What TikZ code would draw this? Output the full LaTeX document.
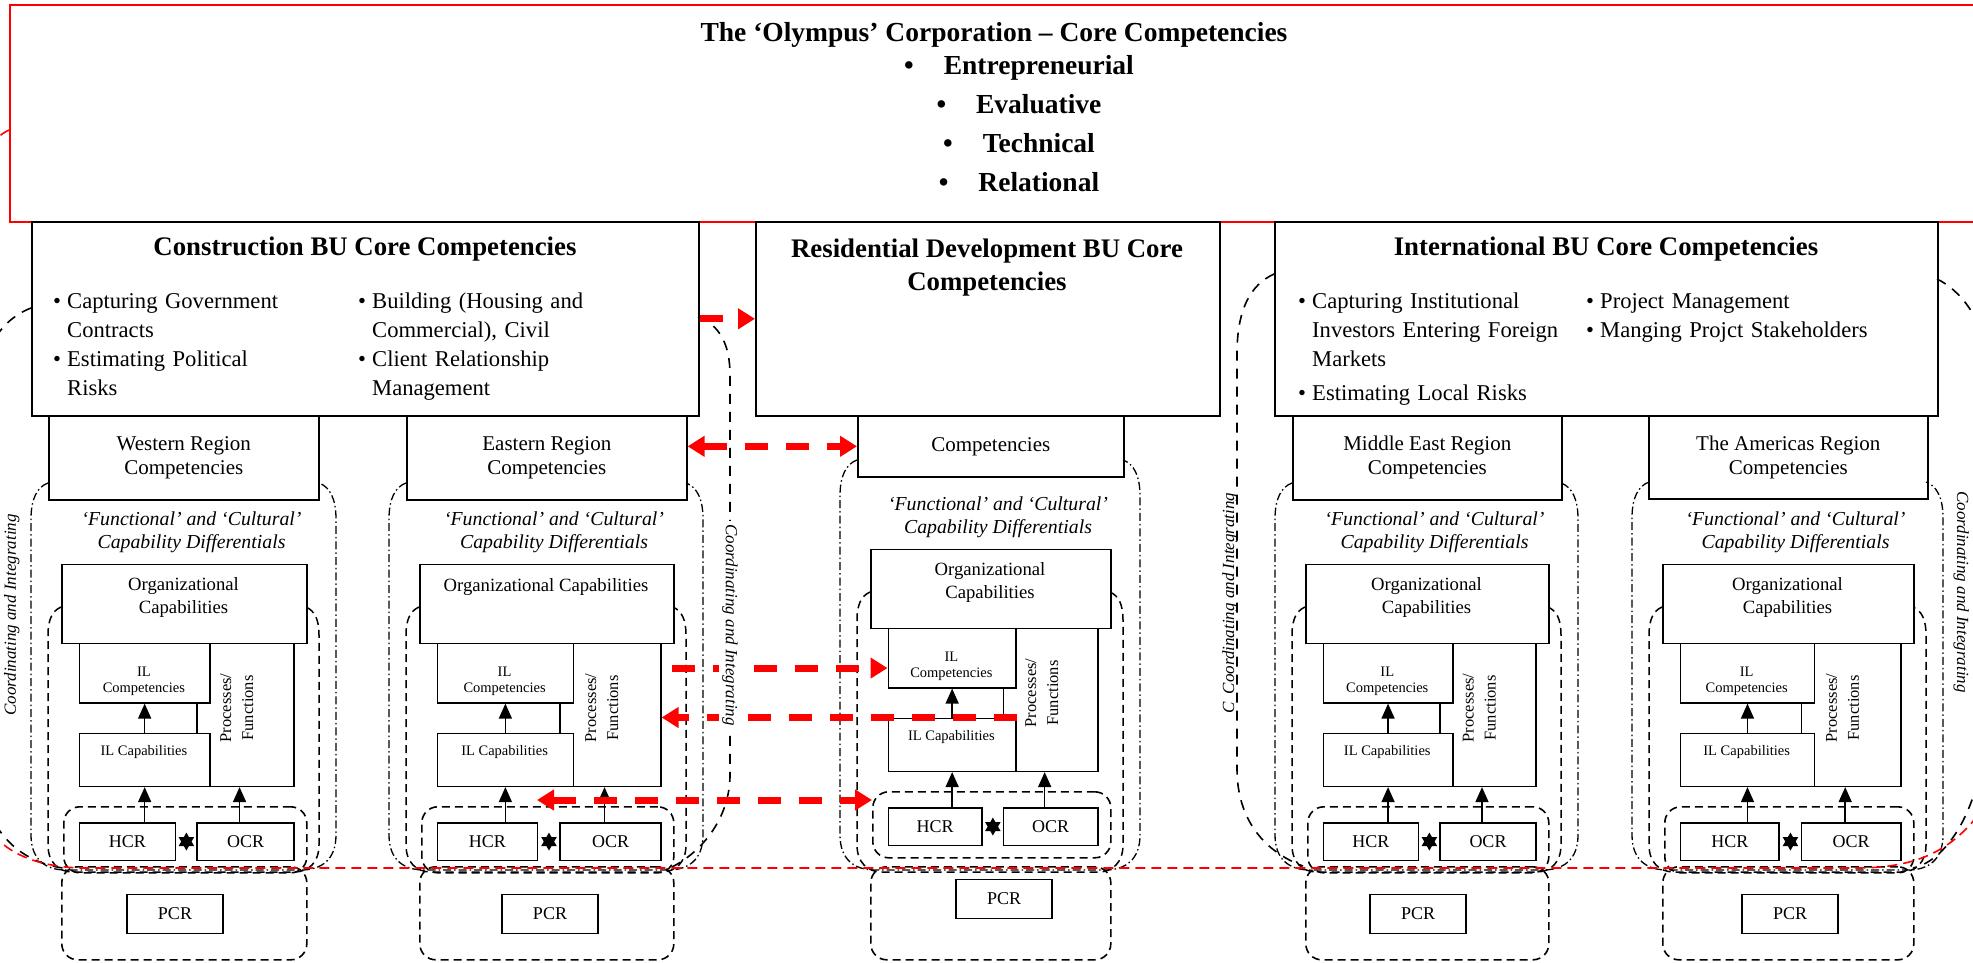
\documentclass[tikz,border=0pt]{standalone}
\usepackage{fontspec}
\setmainfont{Liberation Serif}
\usetikzlibrary{arrows.meta}
\usetikzlibrary{calc}
\usetikzlibrary{shapes.geometric}

\newcommand{\fnt}[2]{\fontsize{#1}{#2}\selectfont}
\newcommand{\bitem}{\par\hangindent=14pt\hangafter=1\noindent
                    \makebox[14pt][l]{\textbullet}}
\newcommand{\tbul}[1]{\textbullet\hspace{30pt}#1}
% #1 name, #2 left of org box, #3 its width, #4 shift, #5 PCR offset, #6 org text, #7 region bottom
\newcommand{\unitcol}[7]{
 \draw[ddot] ({#2-13},{#7-16}) .. controls ({#2-24},{#7-12}) and ({#2-30},{#7}) .. ({#2-30},{#7+20})
   -- ({#2-30},835) .. controls ({#2-30},860) and ({#2-15},870) .. ({#2+5},870)
   -- ({#2+#3-5},870) .. controls ({#2+#3+15},870) and ({#2+#3+30},860) .. ({#2+#3+30},835)
   -- ({#2+#3+30},{#7+20}) .. controls ({#2+#3+30},{#7}) and ({#2+#3+24},{#7-12}) .. ({#2+#3+13},{#7-16});
 \draw[dline] (#2,{607+(#4)}) .. controls ({#2-9},{611+(#4)}) and ({#2-13},{620+(#4)}) .. ({#2-13},{635+(#4)})
   -- ({#2-13},845) .. controls ({#2-13},862) and ({#2-3},872) .. ({#2+12},872)
   -- ({#2+#3-12},872) .. controls ({#2+#3+3},872) and ({#2+#3+13},862) .. ({#2+#3+13},845)
   -- ({#2+#3+13},{635+(#4)}) .. controls ({#2+#3+13},{620+(#4)}) and ({#2+#3+9},{611+(#4)}) .. ({#2+#3},{607+(#4)});
 \draw ({#2+2},{806+(#4)}) node[grpbox,anchor=north west,minimum width={(#3-2)*1pt},minimum height=66pt] (#1hcrbox) {};
 \draw (#2,866) node[grpbox,anchor=north west,minimum width=#3pt,minimum height=93pt] (#1pcrbox) {};
 \draw ({#2+#3/2+8},{532+(#4)}) node[font=\fnt{19.8}{23}\itshape,align=center] (#1diff)
        {‘Functional’ and ‘Cultural’\\Capability Differentials};
 \draw (#2,{563.5+(#4)}) node[cbox,anchor=north west,minimum width=#3pt,minimum height=79pt] (#1org) {};
 \draw ({#2+#3/2},{597+(#4)}) node[font=\fnt{18.7}{23},align=center] (#1orgt) {#6};
 \draw ({#2+0.553*#3},{642.5+(#4)}) node[cbox,anchor=north west,minimum width={(0.447*#3-13)*1pt},
        minimum height=143pt] (#1proc) {};
 \draw ({#2+0.7765*#3-14.5},{708+(#4)}) node[font=\fnt{16.5}{22},rotate=90,align=center] (#1proct)
        {Processes/\\Functions};
 \draw ({#2+17.5},{642.5+(#4)}) node[cbox,anchor=north west,minimum width={(0.605*#3-17.5)*1pt},
        minimum height=59.5pt] (#1ilcomp) {};
 \draw ({#2+8.75+0.3025*#3},{681+(#4)}) node[font=\fnt{14.5}{16},align=center] (#1ilcompt) {IL\\Competencies};
 \draw ({#2+17.5},{732.5+(#4)}) node[cbox,anchor=north west,minimum width={(0.605*#3-17.5)*1pt},
        minimum height=53pt] (#1ilcap) {};
 \draw ({#2+8.75+0.3025*#3},{752+(#4)}) node[font=\fnt{14.5}{16}] (#1ilcapt) {IL Capabilities};
 \draw ({#2+17.5},{822+(#4)}) node[cbox,anchor=north west,minimum width={(0.464*#3-17.5)*1pt},
        minimum height=37.5pt,font=\fnt{18}{20}] (#1hcr) {HCR};
 \draw ({#2+0.553*#3},{822+(#4)}) node[cbox,anchor=north west,minimum width={(0.447*#3-13)*1pt},
        minimum height=37.5pt,font=\fnt{18}{20}] (#1ocr) {OCR};
 \draw ({#2+#5},{914+(#4)}) node[cbox,minimum width=96pt,minimum height=39pt,font=\fnt{18}{20}] (#1pcr) {PCR};
 \node[hstar] (#1star) at ($(#1hcr.east)!0.5!(#1ocr.west)$) {};
 \draw[uparrow] (#1ilcap.north) -- (#1ilcomp.south);
 \draw[uparrow] (#1ilcap.south |- #1hcr.north) -- (#1ilcap.south);
 \draw[uparrow] ([xshift=-6pt]#1ocr.north) -- ([xshift=-6pt]#1proc.south);
}

\begin{document}
\begin{tikzpicture}[x=1pt,y=-1pt,
  cbox/.style={draw,line width=1.6pt,fill=white,inner sep=0pt},
  grpbox/.style={draw,line width=1.6pt,dash pattern=on 8pt off 5pt,rounded corners=16pt,inner sep=0pt},
  ddot/.style={line width=1.3pt,dash pattern=on 8pt off 3pt on 1.5pt off 3pt},
  dline/.style={line width=1.5pt,dash pattern=on 8pt off 5pt},
  budash/.style={line width=1.6pt,dash pattern=on 10pt off 8pt},
  reddash/.style={draw=red,line width=1.6pt,dash pattern=on 10pt off 6pt},
  redlink/.style={draw=red,line width=7pt,dash pattern=on 23pt off 18pt,
                  >={Triangle[length=17pt,width=20pt]}},
  uparrow/.style={line width=1.6pt,-{Triangle[length=15pt,width=13pt]}},
  hstar/.style={star,star points=6,star point ratio=1.75,fill=black,minimum size=18pt,inner sep=0pt},
  bullist/.style={anchor=north west,align=left,inner sep=0pt,font=\fnt{22.6}{29}},
  coord/.style={font=\fnt{17}{20}\itshape}]

 \useasboundingbox (0,0) rectangle (1973,962);
 \clip (0,0) rectangle (1973,962);
 \fill[white] (0,0) rectangle (1973,962);

 \draw (9,4) node[draw=red,line width=2pt,anchor=north west,minimum width=1975pt,
        minimum height=217pt,inner sep=0pt] (olymp) {};
 \draw (994,35) node[font=\fnt{27.5}{34}\bfseries] (ttl)
        {The ‘Olympus’ Corporation – Core Competencies};
 \draw (1019,124) node[font=\fnt{27.5}{39}\bfseries,align=center] (ttlb)
        {\tbul{Entrepreneurial}\\\tbul{Evaluative}\\\tbul{Technical}\\\tbul{Relational}};

 \draw (31,221) node[cbox,anchor=north west,minimum width=667pt,minimum height=194pt] (CBU) {};
 \draw (755,221) node[cbox,anchor=north west,minimum width=464pt,minimum height=194pt] (RBU) {};
 \draw (1274,221) node[cbox,anchor=north west,minimum width=663pt,minimum height=194pt] (IBU) {};

 \draw (365,249) node[font=\fnt{26.8}{33}\bfseries] (CBUt) {Construction BU Core Competencies};
 \draw (987,268) node[font=\fnt{26.8}{33}\bfseries,align=center] (RBUt)
        {Residential Development BU Core\\Competencies};
 \draw (1606,249) node[font=\fnt{26.8}{33}\bfseries] (IBUt) {International BU Core Competencies};

 \draw (53,279) node[bullist,text width=240pt] (CBUa)
        {\bitem Capturing Government\newline Contracts\bitem Estimating Political\newline Risks\par};
 \draw (358,279) node[bullist,text width=320pt] (CBUb)
        {\bitem Building (Housing and\newline Commercial), Civil\bitem Client Relationship\newline Management\par};
 \draw (1298,279) node[bullist,text width=285pt] (IBUa)
        {\bitem Capturing Institutional\newline Investors Entering Foreign\newline Markets\par
         \vspace{5pt}\bitem Estimating Local Risks\par};
 \draw (1586,279) node[bullist,text width=340pt] (IBUb)
        {\bitem Project Management\bitem Manging Projct Stakeholders\par};

 \draw (48,415) node[cbox,anchor=north west,minimum width=270pt,minimum height=84pt,
        font=\fnt{21}{24},align=center] (WRreg) {Western Region\\Competencies};
 \draw (406,415) node[cbox,anchor=north west,minimum width=280pt,minimum height=84pt,
        font=\fnt{21}{24},align=center] (ERreg) {Eastern Region\\Competencies};
 \draw (857,415) node[cbox,anchor=north west,minimum width=266pt,minimum height=61pt,
        font=\fnt{21}{24},align=center] (RDreg) {Competencies};
 \draw (1292,415) node[cbox,anchor=north west,minimum width=269pt,minimum height=84pt,
        font=\fnt{21}{24},align=center] (MEreg) {Middle East Region\\Competencies};
 \draw (1648,415) node[cbox,anchor=north west,minimum width=279pt,minimum height=83pt,
        font=\fnt{21}{24},align=center] (AMreg) {The Americas Region\\Competencies};

 \unitcol{WR}{61}{245}{0}{114}{Organizational\\Capabilities}{499}
 \unitcol{ER}{419}{254}{0}{131}{Organizational Capabilities\\\mbox{}}{499}
 \unitcol{RD}{870}{240}{-15}{134}{Organizational\\Capabilities}{476}
 \unitcol{ME}{1305}{243}{0}{113}{Organizational\\Capabilities}{499}
 \unitcol{AM}{1662}{251}{0}{128}{Organizational\\Capabilities}{498}

 \draw[budash] (31,308) .. controls (5,318) and (-20,345) .. (-20,400) -- (-20,760)
        .. controls (-20,830) and (20,862) .. (63,868);
 \draw[budash] (698,317) .. controls (720,325) and (730,345) .. (730,375) -- (730,775)
        .. controls (730,815) and (705,850) .. (672,867);
 \draw[budash] (1274,274) .. controls (1250,285) and (1237,310) .. (1237,354) -- (1237,769)
        .. controls (1237,820) and (1265,852) .. (1303,866);
 \draw[budash] (1937,279) .. controls (1960,290) and (1985,320) .. (1985,360) -- (1985,720)
        .. controls (1985,800) and (1950,860) .. (1913,868);

 \draw[reddash] (9,130) .. controls (-8,138) and (-25,160) .. (-25,200) -- (-25,780)
        .. controls (-25,840) and (20,866) .. (80,868) -- (1860,868)
        .. controls (1920,867) and (1960,850) .. (1995,790);

 \draw[redlink,->] (CBU.east) -- (RBU.west);
 \draw[redlink,<->] (ERreg.east |- RDreg.west) -- (RDreg.west);
 \coordinate (RDin) at ($(RDilcomp.west)+(0,10)$);
 \draw[redlink,->,shorten <=10pt] (ERproc.east |- RDin) -- (RDin);
 \draw[redlink,->] (RDilcap.north east) -- (ERproc.east |- RDilcap.north east);
 \coordinate (ERtip) at (537,800);
 \draw[redlink,<->] (ERtip) -- (ERtip -| RDhcrbox.west);

 \draw (16,615) node[coord,rotate=90,anchor=base] (CBUcl) {Coordinating and Integrating};
 \draw (730,625) node[coord,rotate=-90,fill=white,inner sep=3pt] (CBUcr) {Coordinating and Integrating};
 \draw (1234,603) node[coord,rotate=90,anchor=base] (IBUcl) {C\hspace{8pt}Coordinating and Integrating};
 \draw (1957,592) node[coord,rotate=-90,anchor=base] (IBUcr) {Coordinating and Integrating};

\end{tikzpicture}
\end{document}
